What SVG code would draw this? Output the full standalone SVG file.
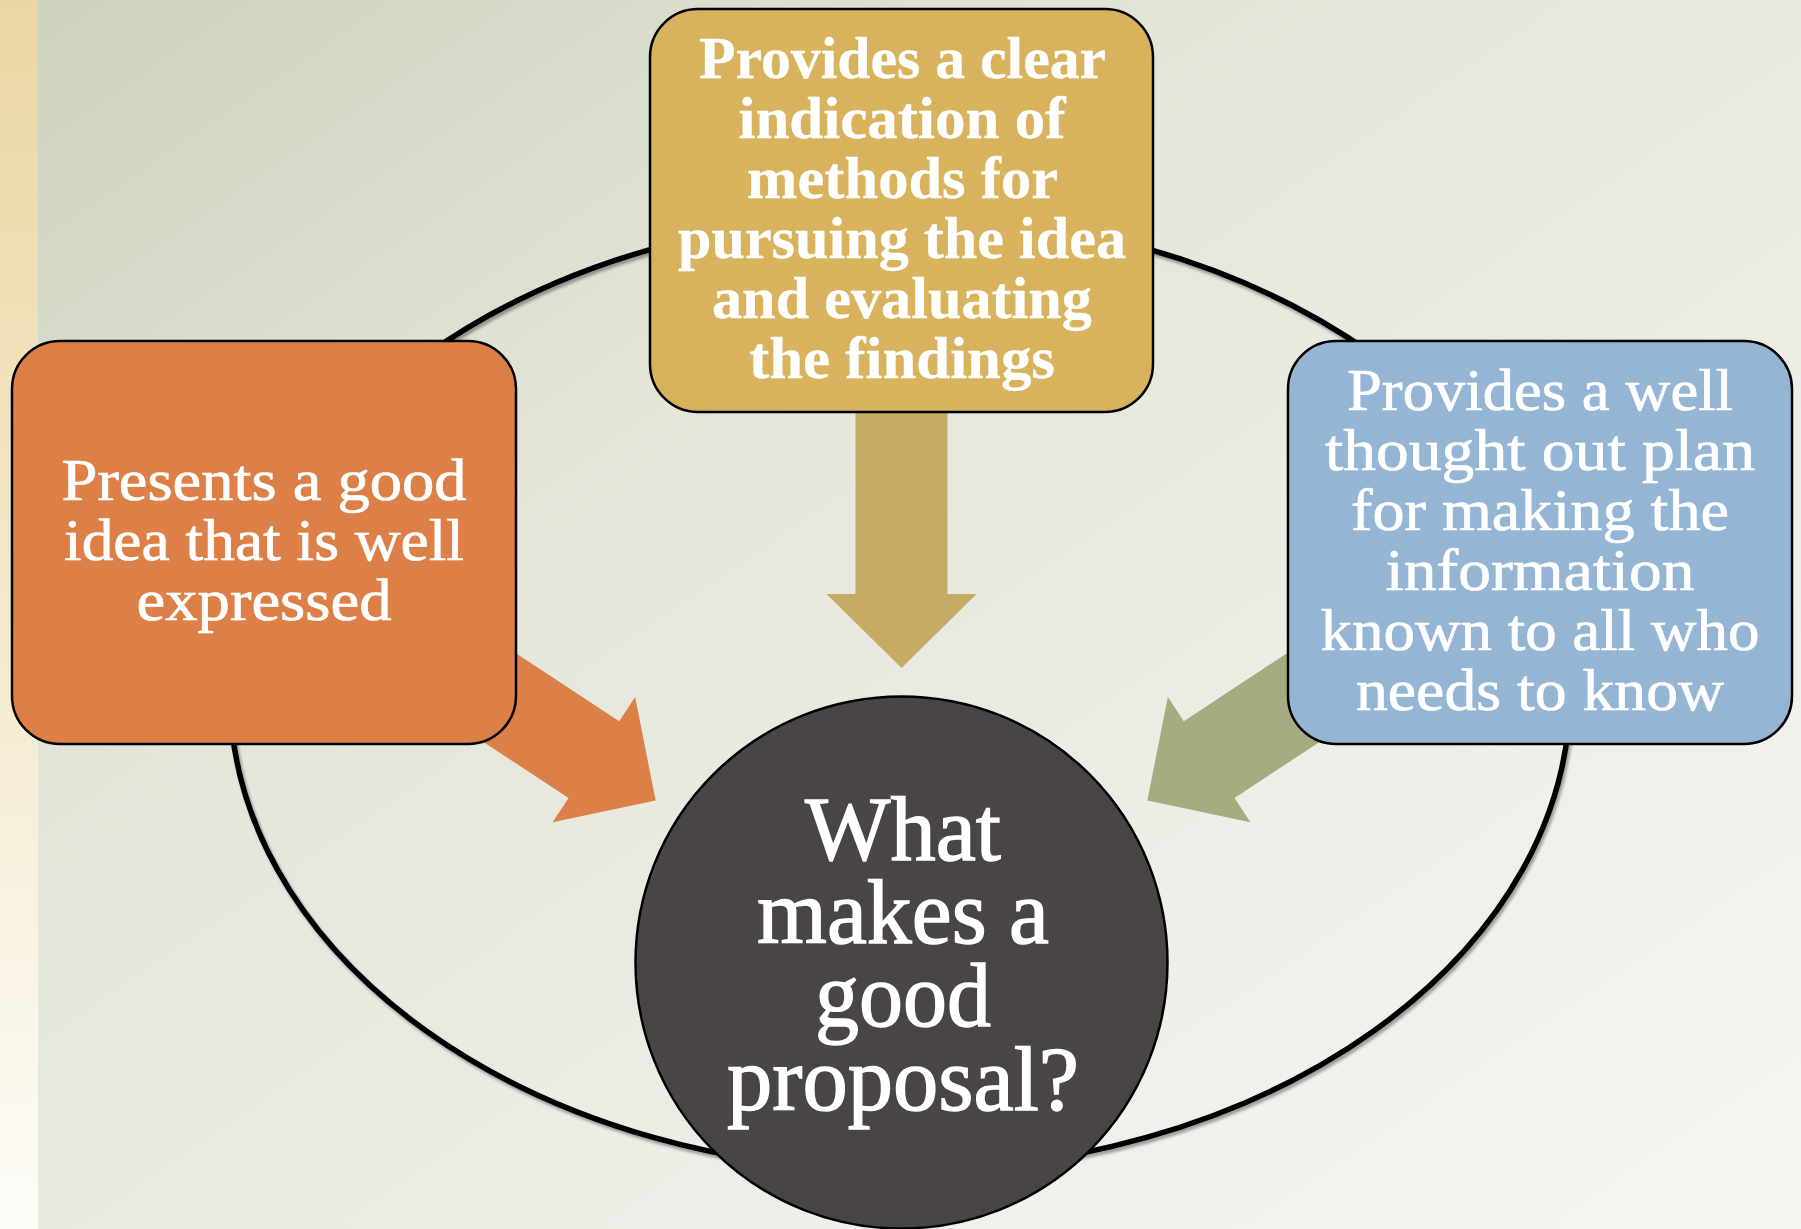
<svg xmlns="http://www.w3.org/2000/svg" width="1801" height="1229" viewBox="0 0 1801 1229">
  <defs>
    <linearGradient id="bg" x1="0" y1="0" x2="1" y2="1">
      <stop offset="0" stop-color="#ccd2bc"/>
      <stop offset="0.35" stop-color="#e3e6d9"/>
      <stop offset="0.7" stop-color="#eeefe8"/>
      <stop offset="1" stop-color="#f6f6f2"/>
    </linearGradient>
    <linearGradient id="strip" x1="0" y1="0" x2="0" y2="1">
      <stop offset="0" stop-color="#ebd6a3"/>
      <stop offset="0.5" stop-color="#f4e9cc"/>
      <stop offset="1" stop-color="#fdfcf8"/>
    </linearGradient>
    <filter id="shadow" x="-5%" y="-5%" width="110%" height="110%">
      <feGaussianBlur in="SourceAlpha" stdDeviation="1.5"/>
      <feOffset dx="2" dy="3" result="b"/>
      <feComponentTransfer><feFuncA type="linear" slope="0.35"/></feComponentTransfer>
      <feMerge><feMergeNode/><feMergeNode in="SourceGraphic"/></feMerge>
    </filter>
    <path id="arrow" d="M -46,-560 L 46,-560 L 46,-368.5 L 75,-368.5 L 0,-294.5 L -75,-368.5 L -46,-368.5 Z"/>
  </defs>
  <style>
    .box { stroke: #000; stroke-width: 2.5; }
    .t { fill: #fff; stroke: #fff; stroke-width: 0.7; font-family: "Liberation Serif", "Times New Roman", serif; font-size: 60px; }
    .tb { font-weight: bold; stroke-width: 0.3; }
    .tc { font-size: 92px; stroke-width: 1.4; }
  </style>

  <rect x="0" y="0" width="1801" height="1229" fill="url(#bg)"/>
  <rect x="0" y="0" width="38" height="1229" fill="url(#strip)"/>

  <g id="ring">
    <ellipse cx="900" cy="693" rx="670" ry="478" fill="none" stroke="#000" stroke-width="5.5" filter="url(#shadow)"/>
  </g>

  <g id="connectors">
    <use href="#arrow" transform="translate(901.5,962.5)" fill="#c4ac64"/>
    <use href="#arrow" transform="translate(901.5,962.5) rotate(-56.6)" fill="#dd8048"/>
    <use href="#arrow" transform="translate(901.5,962.5) rotate(56.6)" fill="#a4ac80"/>
  </g>

  <g id="node-left">
    <rect class="box" x="12" y="341" width="504" height="403" rx="48" ry="48" fill="#dd8048"/>
    <text class="t">
      <tspan x="61.5" y="500" textLength="405" lengthAdjust="spacingAndGlyphs">Presents a good</tspan>
      <tspan x="64" y="560" textLength="400" lengthAdjust="spacingAndGlyphs">idea that is well</tspan>
      <tspan x="136.5" y="620" textLength="255" lengthAdjust="spacingAndGlyphs">expressed</tspan>
    </text>
  </g>

  <g id="node-top">
    <rect class="box" x="650" y="9" width="503" height="403" rx="48" ry="48" fill="#d9b25e"/>
    <text class="t tb">
      <tspan x="699" y="78" textLength="406" lengthAdjust="spacingAndGlyphs">Provides a clear</tspan>
      <tspan x="738.5" y="138" textLength="327" lengthAdjust="spacingAndGlyphs">indication of</tspan>
      <tspan x="747" y="198" textLength="310" lengthAdjust="spacingAndGlyphs">methods for</tspan>
      <tspan x="678" y="258" textLength="448" lengthAdjust="spacingAndGlyphs">pursuing the idea</tspan>
      <tspan x="712" y="318" textLength="380" lengthAdjust="spacingAndGlyphs">and evaluating</tspan>
      <tspan x="749" y="378" textLength="306" lengthAdjust="spacingAndGlyphs">the findings</tspan>
    </text>
  </g>

  <g id="node-right">
    <rect class="box" x="1288" y="341" width="504" height="403" rx="48" ry="48" fill="#94b5d4"/>
    <text class="t">
      <tspan x="1347" y="410" textLength="386" lengthAdjust="spacingAndGlyphs">Provides a well</tspan>
      <tspan x="1325" y="470" textLength="430" lengthAdjust="spacingAndGlyphs">thought out plan</tspan>
      <tspan x="1351" y="530" textLength="378" lengthAdjust="spacingAndGlyphs">for making the</tspan>
      <tspan x="1385.5" y="590" textLength="309" lengthAdjust="spacingAndGlyphs">information</tspan>
      <tspan x="1320.5" y="650" textLength="439" lengthAdjust="spacingAndGlyphs">known to all who</tspan>
      <tspan x="1356" y="710" textLength="368" lengthAdjust="spacingAndGlyphs">needs to know</tspan>
    </text>
  </g>

  <g id="node-center">
    <circle cx="901.5" cy="962.5" r="266" fill="#4a4545" stroke="#000" stroke-width="2.5"/>
    <text class="t tc">
      <tspan x="805" y="860" textLength="196" lengthAdjust="spacingAndGlyphs">What</tspan>
      <tspan x="757" y="943" textLength="292" lengthAdjust="spacingAndGlyphs">makes a</tspan>
      <tspan x="815" y="1026" textLength="176" lengthAdjust="spacingAndGlyphs">good</tspan>
      <tspan x="727" y="1110" textLength="352" lengthAdjust="spacingAndGlyphs">proposal?</tspan>
    </text>
  </g>
</svg>
